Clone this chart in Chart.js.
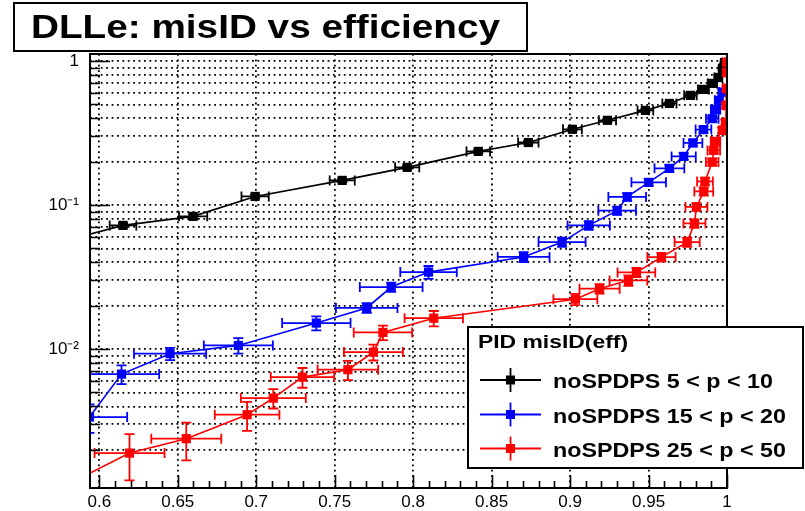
<!DOCTYPE html>
<html>
<head>
<meta charset="utf-8">
<script src="https://cdn.jsdelivr.net/npm/chart.js@4.4.1/dist/chart.umd.min.js"></script>
<style>
html,body{margin:0;padding:0;background:#fff;}
#wrap{width:805px;height:511px;position:relative;}
</style>
</head>
<body>
<div id="wrap"><canvas id="c" width="805" height="511"></canvas></div>
<script>
// ---------------- data ----------------
const titleText = 'DLLe: misID vs efficiency';
const legendHeader = 'PID misID(eff)';
const seriesLabels = ['noSPDPS 5 < p < 10', 'noSPDPS 15 < p < 20', 'noSPDPS 25 < p < 50'];
const seriesColors = ['#000000', '#0000ff', '#ff0000'];

const blackX = [0.5813, 0.6151, 0.6598, 0.6993, 0.7548, 0.7962, 0.8415, 0.8734, 0.9015, 0.9238, 0.9480, 0.9633, 0.9767, 0.9850, 0.9907, 0.9945, 0.9971, 0.9984];
const blackY = [0.0578, 0.0723, 0.0835, 0.1149, 0.1484, 0.1828, 0.236, 0.272, 0.336, 0.388, 0.4546, 0.508, 0.578, 0.636, 0.700, 0.770, 0.889, 0.976];
const blackXErr = [0, 0.0085, 0.009, 0.0087, 0.008, 0.0077, 0.0075, 0.0065, 0.006, 0.0055, 0.005, 0.0045, 0.004, 0.0035, 0.003, 0.0025, 0.002, 0.0015];
const blackYErr = [0, 0.0025, 0.003, 0.0035, 0.004, 0.005, 0.006, 0.007, 0.008, 0.009, 0.01, 0.011, 0.012, 0.013, 0.014, 0.015, 0.016, 0.017];

const blueX = [0.59375, 0.61416, 0.6451, 0.6886, 0.7383, 0.7704, 0.7860, 0.8098, 0.8704, 0.8949, 0.9119, 0.9300, 0.9364, 0.9501, 0.9633, 0.9724, 0.9783, 0.9850, 0.9906, 0.9927, 0.9948, 0.9970];
const blueY = [0.003373, 0.006705, 0.00929, 0.01061, 0.01517, 0.01932, 0.02698, 0.03426, 0.04365, 0.05534, 0.07229, 0.09143, 0.1140, 0.1438, 0.1799, 0.2179, 0.2703, 0.3343, 0.3983, 0.4620, 0.5337, 0.6095];
const blueXErr = [0.024, 0.024, 0.023, 0.022, 0.0218, 0.0196, 0.02, 0.018, 0.0165, 0.015, 0.0135, 0.012, 0.012, 0.011, 0.0095, 0.0077, 0.006, 0.005, 0.004, 0.003, 0.0025, 0.002];
const blueYErr = [0.00075, 0.001, 0.0009, 0.0013, 0.0017, 0.0015, 0.002, 0.0035, 0.0035, 0.004, 0.005, 0.006, 0.007, 0.008, 0.01, 0.012, 0.014, 0.016, 0.018, 0.02, 0.022, 0.025];

const redX = [0.5813, 0.61926, 0.65542, 0.69420, 0.71091, 0.72946, 0.75842, 0.77468, 0.78074, 0.81314, 0.90338, 0.91881, 0.93718, 0.94228, 0.95823, 0.97462, 0.97927, 0.98055, 0.98520, 0.98597, 0.99056, 0.99158, 0.99267, 0.99694, 0.9990, 0.99936, 0.99968, 0.99987, 0.99995];
const redY = [0.001168, 0.001896, 0.002387, 0.003503, 0.004567, 0.006391, 0.007193, 0.009532, 0.01306, 0.01639, 0.02221, 0.02627, 0.03000, 0.03409, 0.04354, 0.05534, 0.07462, 0.09716, 0.1245, 0.1461, 0.1989, 0.2398, 0.2770, 0.3302, 0.375, 0.492, 0.645, 0.834, 0.98];
const redXErr = [0, 0.0223, 0.0223, 0.0206, 0.0207, 0.0202, 0.0193, 0.0188, 0.0186, 0.0186, 0.014, 0.0128, 0.012, 0.012, 0.009, 0.008, 0.007, 0.007, 0.006, 0.005, 0.004, 0.004, 0.003, 0.002, 0.001, 0.001, 0.001, 0.001, 0.001];
const redYErr = [0, 0.00067, 0.0007, 0.0008, 0.0007, 0.001, 0.0011, 0.0012, 0.0015, 0.002, 0.002, 0.002, 0.0025, 0.0025, 0.003, 0.004, 0.005, 0.006, 0.008, 0.009, 0.011, 0.012, 0.014, 0.016, 0.018, 0.02, 0.025, 0.03, 0.03];

const xTickValues = [0.6, 0.65, 0.7, 0.75, 0.8, 0.85, 0.9, 0.95, 1];
const xTickLabels = ['0.6', '0.65', '0.7', '0.75', '0.8', '0.85', '0.9', '0.95', '1'];
const yTickValues = [0.01, 0.1, 1];
const yTickLabels = ['10\u207B\u00B2', '10\u207B\u00B9', '1'];

const X_MIN = 0.59407, X_MAX = 1.0;
const Y_MIN = 0.001085, Y_MAX = 1.12;

// ---------------- helpers ----------------
const FONT = "'Liberation Sans', Arial, Helvetica, sans-serif";
function pts(xs, ys) { return xs.map((x, i) => ({ x: x, y: ys[i] })); }

function drawFitText(ctx, text, x, baseline, font, width) {
  ctx.save();
  ctx.font = font;
  const w = ctx.measureText(text).width;
  ctx.translate(x, baseline);
  ctx.scale(width / w, 1);
  ctx.fillText(text, 0, 0);
  ctx.restore();
}

const bgPlugin = {
  id: 'bg',
  beforeDraw(chart) {
    const ctx = chart.ctx;
    ctx.save(); ctx.fillStyle = '#fff'; ctx.fillRect(0, 0, chart.width, chart.height); ctx.restore();
  }
};

const errorBars = {
  id: 'errorBars',
  beforeDatasetDraw(chart, args) {
    const ds = chart.data.datasets[args.index];
    const xs = chart.scales.x, ys = chart.scales.y, ca = chart.chartArea, ctx = chart.ctx;
    ctx.save();
    ctx.beginPath(); ctx.rect(ca.left, ca.top, ca.right - ca.left, ca.bottom - ca.top); ctx.clip();
    ctx.strokeStyle = ds.borderColor; ctx.lineWidth = 1.8;
    const cap = 5;
    ds.data.forEach((p, i) => {
      const ex = ds.xErr[i], ey = ds.yErr[i];
      const px = xs.getPixelForValue(p.x), py = ys.getPixelForValue(p.y);
      ctx.beginPath();
      if (ex > 0) {
        const x1 = xs.getPixelForValue(p.x - ex), x2 = xs.getPixelForValue(p.x + ex);
        ctx.moveTo(x1, py); ctx.lineTo(x2, py);
        ctx.moveTo(x1, py - cap); ctx.lineTo(x1, py + cap);
        ctx.moveTo(x2, py - cap); ctx.lineTo(x2, py + cap);
      }
      if (ey > 0) {
        const y1 = ys.getPixelForValue(p.y + ey), y2 = ys.getPixelForValue(Math.max(p.y - ey, 1e-6));
        ctx.moveTo(px, y1); ctx.lineTo(px, y2);
        ctx.moveTo(px - cap, y1); ctx.lineTo(px + cap, y1);
        ctx.moveTo(px - cap, y2); ctx.lineTo(px + cap, y2);
      }
      ctx.stroke();
    });
    ctx.restore();
  }
};

const frameTicks = {
  id: 'frameTicks',
  afterDatasetsDraw(chart) {
    const ctx = chart.ctx, ca = chart.chartArea, xs = chart.scales.x, ys = chart.scales.y;
    ctx.save();
    ctx.strokeStyle = '#000'; ctx.lineWidth = 1.6;
    ctx.beginPath();
    ys.ticks.forEach(t => {
      const py = Math.round(ys.getPixelForValue(t.value)) + 0.5;
      const major = yTickValues.some(v => Math.abs(v - t.value) / v < 1e-6);
      ctx.moveTo(ca.left, py); ctx.lineTo(ca.left + (major ? 20 : 10), py);
    });
    for (let k = 59; k <= 100; k++) {
      const v = k / 100; if (v < xs.min) continue;
      const px = Math.round(xs.getPixelForValue(v)) + 0.5;
      ctx.moveTo(px, ca.bottom); ctx.lineTo(px, ca.bottom - (k % 5 === 0 ? 13 : 7));
    }
    ctx.stroke();
    ctx.lineWidth = 2;
    ctx.strokeRect(ca.left, ca.top, ca.right - ca.left, ca.bottom - ca.top);
    ctx.restore();
  }
};

const titleLegend = {
  id: 'titleLegend',
  afterDraw(chart) {
    const ctx = chart.ctx;
    ctx.save();
    // title box
    ctx.fillStyle = '#fff'; ctx.fillRect(14, 3, 513, 48);
    ctx.strokeStyle = '#000'; ctx.lineWidth = 2; ctx.strokeRect(14, 3, 513, 48);
    ctx.fillStyle = '#000'; ctx.textBaseline = 'alphabetic';
    drawFitText(ctx, titleText, 31, 38, 'bold 33px ' + FONT, 469);
    // legend box
    ctx.fillStyle = '#fff'; ctx.fillRect(468, 327, 335, 141);
    ctx.strokeStyle = '#000'; ctx.lineWidth = 2; ctx.strokeRect(468, 327, 335, 141);
    ctx.fillStyle = '#000';
    drawFitText(ctx, legendHeader, 478, 348, 'bold 18px ' + FONT, 150);
    const entryFont = 'bold 21px ' + FONT;
    ctx.font = entryFont;
    const sc = 220 / ctx.measureText(seriesLabels[0]).width;
    const rows = [380, 414.5, 448.5];
    chart.data.datasets.forEach((ds, i) => {
      const y = rows[i];
      ctx.strokeStyle = ds.borderColor; ctx.fillStyle = ds.borderColor; ctx.lineWidth = 1.8;
      ctx.beginPath();
      ctx.moveTo(480, y); ctx.lineTo(541, y);
      ctx.moveTo(510.5, y - 12); ctx.lineTo(510.5, y + 12);
      ctx.stroke();
      ctx.fillRect(506, y - 4.5, 9, 9);
      ctx.fillStyle = '#000';
      drawFitText(ctx, ds.label, 553, y + 8, entryFont, ctx.measureText(ds.label).width * sc);
      ctx.font = entryFont;
    });
    ctx.restore();
  }
};

function mkDataset(i, xs, ys, xe, ye, order) {
  return {
    label: seriesLabels[i],
    data: pts(xs, ys),
    xErr: xe, yErr: ye,
    borderColor: seriesColors[i],
    backgroundColor: seriesColors[i],
    showLine: true,
    borderWidth: 1.6,
    pointStyle: 'rect',
    pointRadius: 6.5,
    pointHoverRadius: 6.5,
    pointBorderWidth: 0,
    tension: 0,
    order: order
  };
}

Chart.defaults.font.family = FONT;
Chart.defaults.color = '#000';

new Chart(document.getElementById('c'), {
  type: 'scatter',
  data: {
    datasets: [
      mkDataset(0, blackX, blackY, blackXErr, blackYErr, 3),
      mkDataset(1, blueX, blueY, blueXErr, blueYErr, 2),
      mkDataset(2, redX, redY, redXErr, redYErr, 1)
    ]
  },
  options: {
    responsive: false,
    devicePixelRatio: 1,
    animation: false,
    events: [],
    layout: { padding: { left: 0, top: 54, right: 78, bottom: 0 } },
    plugins: { legend: { display: false }, title: { display: false }, tooltip: { enabled: false } },
    scales: {
      x: {
        type: 'linear', min: X_MIN, max: X_MAX,
        afterBuildTicks: s => { s.ticks = xTickValues.map(v => ({ value: v })); },
        afterFit: s => { s.height = 23; },
        ticks: {
          autoSkip: false, maxRotation: 0, padding: 4,
          font: { size: 17 }, color: '#000',
          callback: v => { const i = xTickValues.findIndex(t => Math.abs(t - v) < 1e-9); return i >= 0 ? xTickLabels[i] : ''; }
        },
        grid: { color: '#000', lineWidth: 1.8, drawTicks: false },
        border: { display: false, dash: [1.8, 3.6] }
      },
      y: {
        type: 'logarithmic', min: Y_MIN, max: Y_MAX,
        afterBuildTicks: s => {
          const t = [];
          for (let e = -3; e <= 0; e++) {
            for (let m = 1; m <= 9; m++) {
              const v = +(m * Math.pow(10, e)).toPrecision(6);
              if (v >= s.min && v <= s.max) t.push({ value: v });
            }
          }
          s.ticks = t;
        },
        afterFit: s => { s.width = 90; },
        ticks: {
          autoSkip: false, padding: 11, font: { size: 17 }, color: '#000',
          callback: v => { const i = yTickValues.findIndex(t => Math.abs(t - v) / t < 1e-6); return i >= 0 ? yTickLabels[i] : ''; }
        },
        grid: { color: '#000', lineWidth: 1.8, drawTicks: false },
        border: { display: false, dash: [1.8, 3.6] }
      }
    }
  },
  plugins: [bgPlugin, errorBars, frameTicks, titleLegend]
});
</script>
</body>
</html>
